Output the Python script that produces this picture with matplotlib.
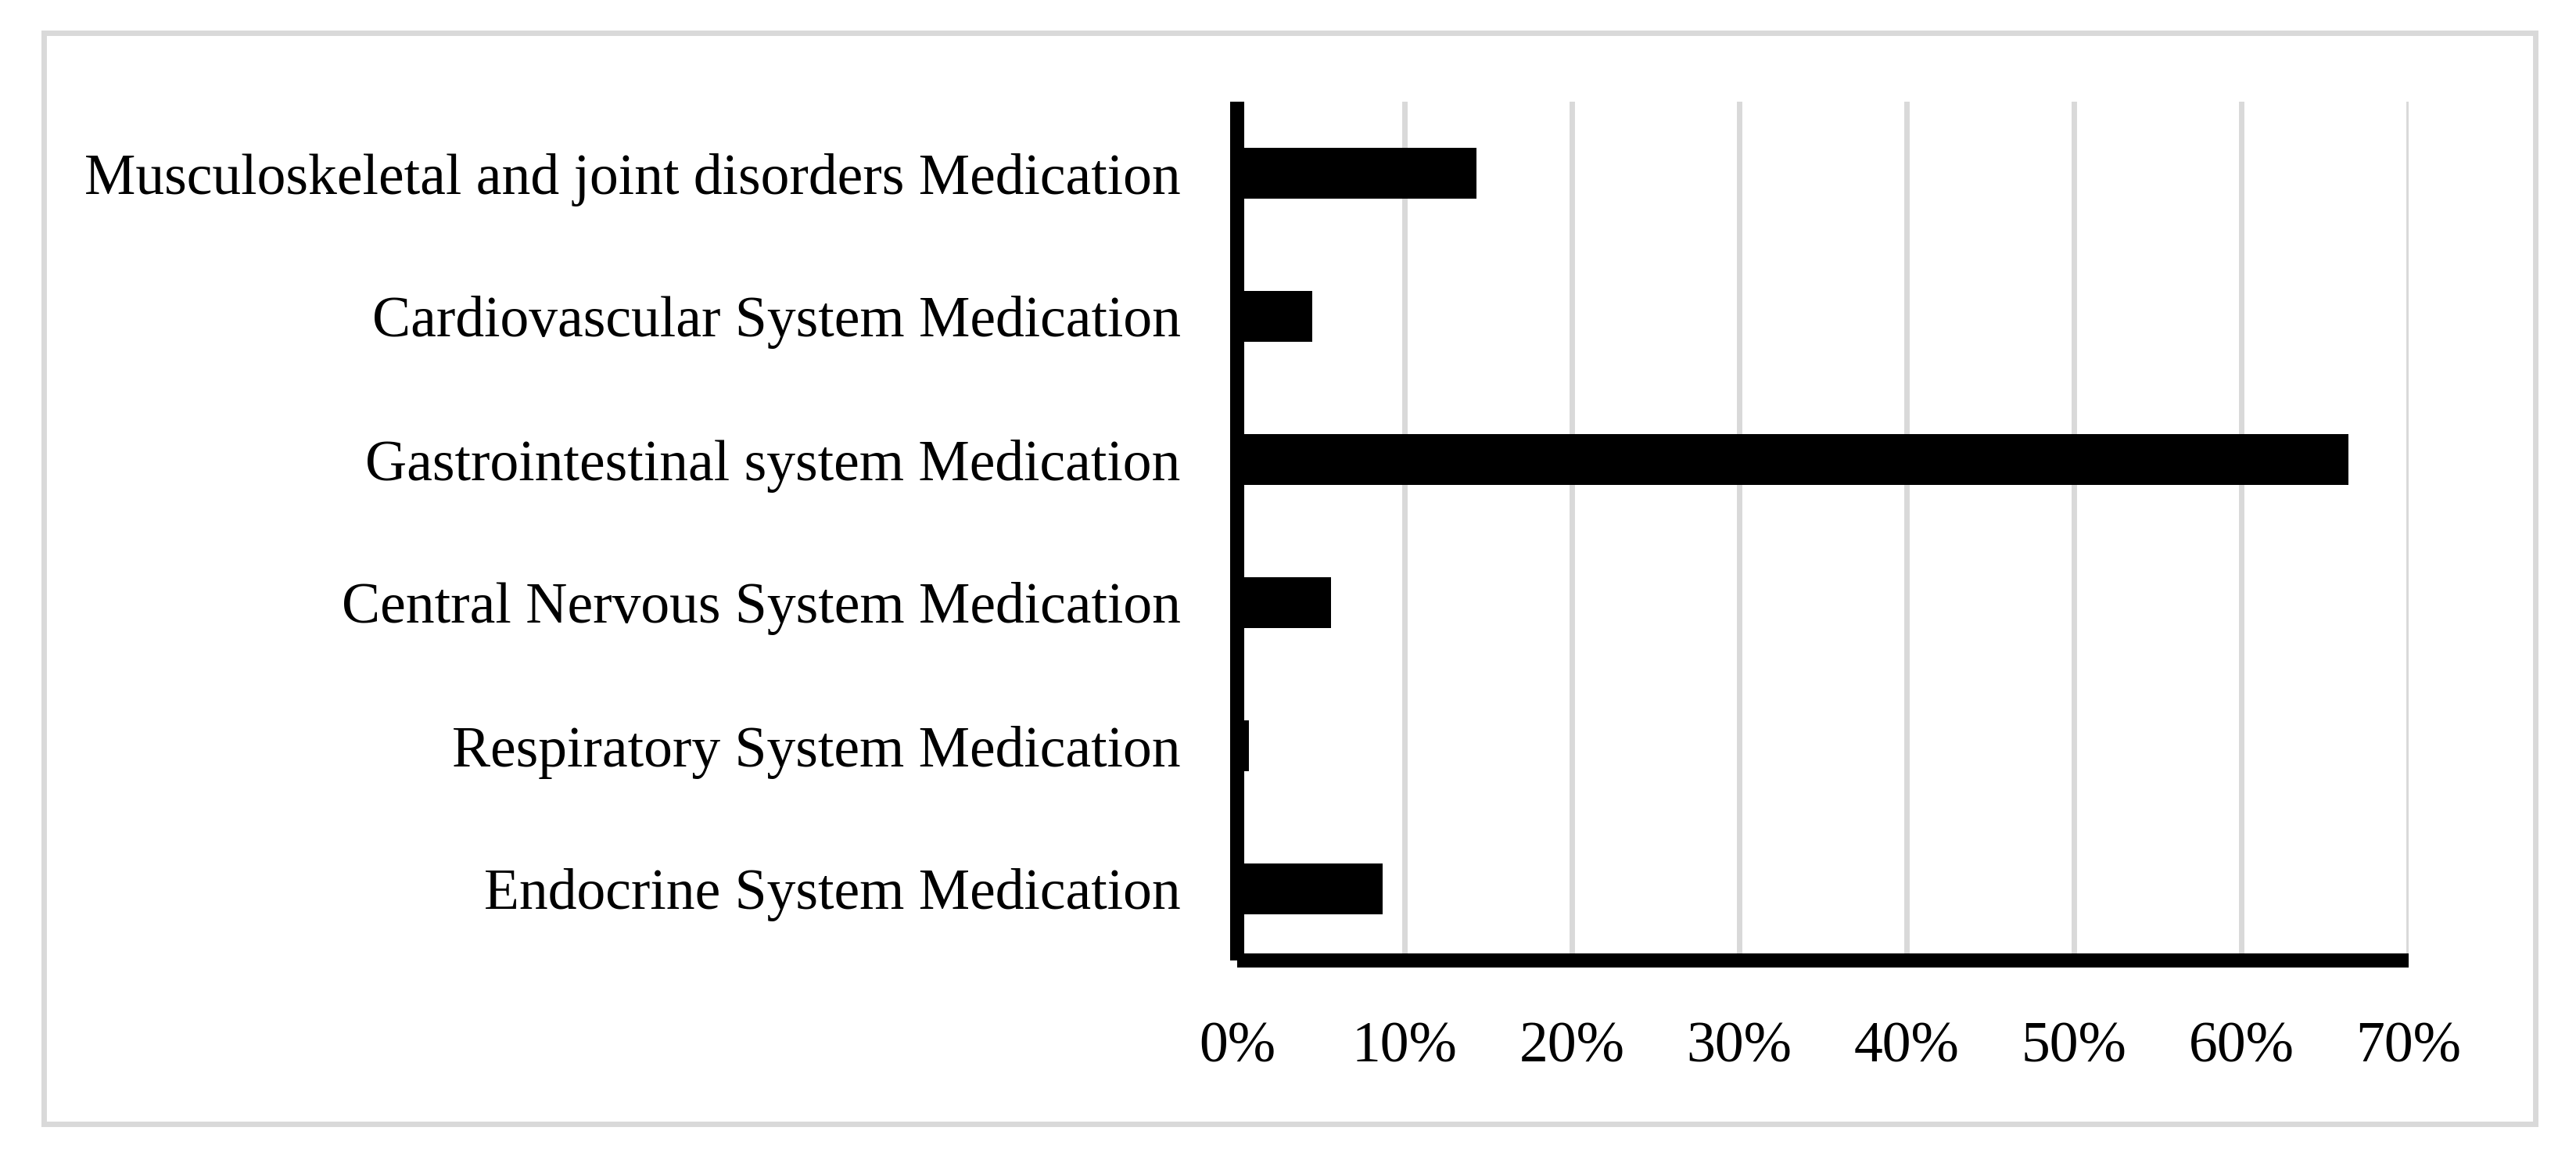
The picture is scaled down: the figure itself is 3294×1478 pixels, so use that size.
import matplotlib
matplotlib.use("Agg")
import matplotlib.pyplot as plt
from matplotlib.patches import Rectangle
from matplotlib.ticker import FuncFormatter

categories = [
    "Endocrine System Medication",
    "Respiratory System Medication",
    "Central Nervous System Medication",
    "Gastrointestinal system Medication",
    "Cardiovascular System Medication",
    "Musculoskeletal and joint disorders Medication",
]
values = [8.7, 0.7, 5.6, 66.4, 4.5, 14.3]
xticks = [0, 10, 20, 30, 40, 50, 60, 70]

plt.rcParams['font.family'] = ['Liberation Serif', 'DejaVu Serif']

W, H = 3294, 1478
fig = plt.figure(figsize=(W / 100, H / 100), dpi=100)
fig.patch.set_facecolor('white')

# outer light-gray frame
fig.patches.append(Rectangle((55.5 / W, 1 - 1436.5 / H), (3241.5 - 55.5) / W, (1436.5 - 41.5) / H,
                             transform=fig.transFigure, fill=False,
                             edgecolor='#d9d9d9', linewidth=5.0, zorder=0))

left, right = 1582 / W, 3080 / W
top, bottom = 1 - 130 / H, 1 - 1228 / H
ax = fig.add_axes([left, bottom, right - left, top - bottom])

ypos = list(range(len(categories)))
ax.barh(ypos, values, height=0.36, color='black', zorder=2)

ax.set_xlim(0, 70)
ax.set_ylim(-0.5, len(categories) - 0.5)
ax.set_xticks(xticks)
ax.xaxis.set_major_formatter(FuncFormatter(lambda v, p: f"{int(v)}%"))
ax.set_yticks(ypos)
ax.set_yticklabels(categories)

ax.grid(axis='x', color='#d9d9d9', linewidth=5.0, zorder=0)
ax.set_axisbelow(True)

for s in ['top', 'right']:
    ax.spines[s].set_visible(False)
for s in ['left', 'bottom']:
    ax.spines[s].set_linewidth(13)
    ax.spines[s].set_color('black')
    ax.spines[s].set_zorder(3)
    ax.spines[s].set_capstyle('butt')

ax.tick_params(axis='both', length=0, labelsize=53, colors='black')
ax.tick_params(axis='y', pad=52)
ax.tick_params(axis='x', pad=56)

fig.savefig('out.png', dpi=100, facecolor='white')
